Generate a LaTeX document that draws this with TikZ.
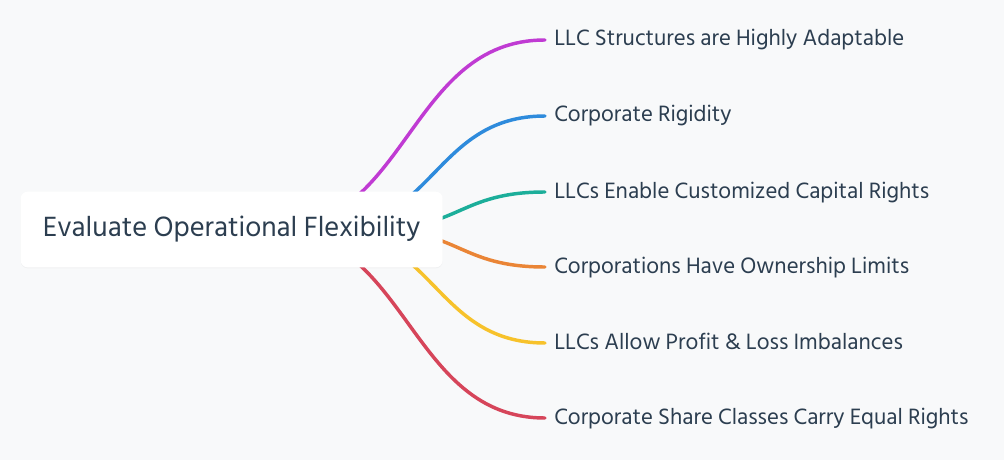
\documentclass[tikz,border=0pt]{standalone}
\usepackage{fontspec}
\setmainfont{Hind Siliguri}
\usetikzlibrary{calc,shadows}
\definecolor{bgc}{HTML}{F8F9FA}
\definecolor{txt}{HTML}{2C3E50}
\definecolor{cmag}{HTML}{C03BD3}
\definecolor{cblue}{HTML}{2E8BDC}
\definecolor{cteal}{HTML}{1CAE9A}
\definecolor{corange}{HTML}{EA8536}
\definecolor{cyellow}{HTML}{F7C22B}
\definecolor{cred}{HTML}{D6455A}
\pgfdeclarelayer{bg}
\pgfdeclarelayer{back}
\pgfsetlayers{back,bg,main}
\tikzset{
  rootbox/.style={draw=none, fill=white, rounded corners=7*0.75pt,
    minimum width=422*0.75pt, minimum height=75.6*0.75pt,
    drop shadow={opacity=0.06, shadow xshift=0pt, shadow yshift=-0.8pt},
    text=txt, font=\fontsize{21.4}{25}\selectfont},
  leaf/.style={anchor=west, inner xsep=9*0.75pt, inner ysep=0pt,
    text height=0.9em, text depth=0pt, text=txt,
    font=\fontsize{17.1}{20}\selectfont},
  branch/.style={line width=2.6pt, line cap=round}
}
\begin{document}
\begin{tikzpicture}[x=0.75pt,y=-0.75pt]
\begin{pgfonlayer}{back}
\fill[bgc] (0,0) rectangle (1004,460);
\end{pgfonlayer}
\useasboundingbox (0,0) rectangle (1004,460);
\node[rootbox] (root) at (231.7,229.5) {Evaluate Operational Flexibility};
\node[leaf] (l1) at (545,40) {LLC Structures are Highly Adaptable};
\node[leaf] (l2) at (545,116) {Corporate Rigidity};
\node[leaf] (l3) at (545,192) {LLCs Enable Customized Capital Rights};
\node[leaf] (l4) at (545,267) {Corporations Have Ownership Limits};
\node[leaf] (l5) at (545,343) {LLCs Allow Profit \& Loss Imbalances};
\node[leaf] (l6) at (545,418) {Corporate Share Classes Carry Equal Rights};
\coordinate (s1) at ($(root.center)+(40,0)$);
\coordinate (s2) at ($(root.center)+(92,0)$);
\coordinate (s3) at ($(root.center)+(142,0)$);
\begin{pgfonlayer}{bg}
\draw[branch,cmag] (s1) .. controls ($(s1)!0.5!(s1-|l1.west)$) and ($(l1.west)!0.5!(l1.west-|s1)$) .. (l1.west);
\draw[branch,cblue] (s2) .. controls ($(s2)!0.5!(s2-|l2.west)$) and ($(l2.west)!0.5!(l2.west-|s2)$) .. (l2.west);
\draw[branch,cteal] (s3) .. controls ($(s3)!0.5!(s3-|l3.west)$) and ($(l3.west)!0.5!(l3.west-|s3)$) .. (l3.west);
\draw[branch,corange] (s3) .. controls ($(s3)!0.5!(s3-|l4.west)$) and ($(l4.west)!0.5!(l4.west-|s3)$) .. (l4.west);
\draw[branch,cyellow] (s2) .. controls ($(s2)!0.5!(s2-|l5.west)$) and ($(l5.west)!0.5!(l5.west-|s2)$) .. (l5.west);
\draw[branch,cred] (s1) .. controls ($(s1)!0.5!(s1-|l6.west)$) and ($(l6.west)!0.5!(l6.west-|s1)$) .. (l6.west);
\end{pgfonlayer}
\end{tikzpicture}
\end{document}
